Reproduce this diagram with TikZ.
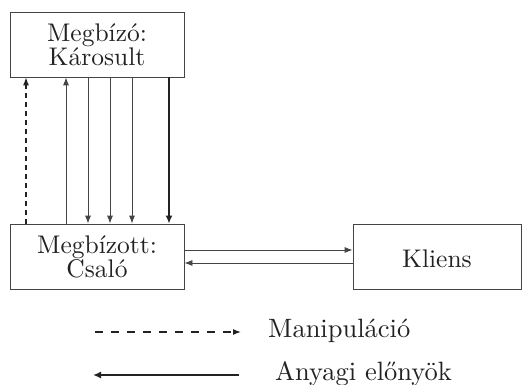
\documentclass[tikz,border=0pt]{standalone}
\usepackage{fontspec}
\setmainfont{lmroman10-regular.otf}
\usetikzlibrary{arrows.meta}
\definecolor{ink}{HTML}{222222}
\definecolor{edge}{HTML}{444444}
\begin{document}
\begin{tikzpicture}[x=1pt,y=-1pt,
  box/.style={draw=edge, line width=0.8pt, inner sep=0pt, align=center, text=ink,
    font=\fontsize{25.5}{24}\selectfont},
  thin/.style={draw=edge, line width=0.8pt, -{Latex[length=8pt,width=6pt]}},
  thick/.style={draw=ink, line width=2pt, -{Latex[length=8pt,width=7pt]}},
  manip/.style={draw=ink, line width=1.2pt, dash pattern=on 5pt off 4pt, -{Latex[length=8pt,width=6pt]}},
  legtext/.style={text=ink, inner sep=0pt, anchor=base west, font=\fontsize{26.5}{30}\selectfont}]
\useasboundingbox (0,0) rectangle (522,385);
\node[box, minimum width=174pt, minimum height=65pt] (A) at (97,44.5) {Megbízó:\\Károsult};
\node[box, minimum width=174pt, minimum height=65pt] (B) at (97,256.5) {Megbízott:\\Csaló};
\node[box, minimum width=168pt, minimum height=65pt, text height=21.5pt] (C) at (437,256.5) {Kliens};
\coordinate (v1) at (26,0);
\coordinate (v2) at (66,0);
\coordinate (v3) at (88,0);
\coordinate (v4) at (110,0);
\coordinate (v5) at (132,0);
\coordinate (v6) at (169,0);
\coordinate (h1) at (0,250);
\coordinate (h2) at (0,263);
\draw[manip] (B.north -| v1) -- (A.south -| v1);
\draw[thin] (B.north -| v2) -- (A.south -| v2);
\draw[thin] (A.south -| v3) -- (B.north -| v3);
\draw[thin] (A.south -| v4) -- (B.north -| v4);
\draw[thin] (A.south -| v5) -- (B.north -| v5);
\draw[thick] (A.south -| v6) -- (B.north -| v6);
\draw[thin] (B.east |- h1) -- (C.west |- h1);
\draw[thin] (C.west |- h2) -- (B.east |- h2);
\coordinate (m1) at (95,332);
\coordinate (m2) at (241,332);
\coordinate (a1) at (93,375);
\coordinate (a2) at (239,375);
\draw[manip, dash pattern=on 8pt off 8pt] (m1) -- (m2);
\draw[thick, line width=2.2pt] (a2) -- (a1);
\node[legtext] (M) at (268,337) {Manipuláció};
\node[legtext] (N) at (275,380) {Anyagi előnyök};
\end{tikzpicture}
\end{document}
